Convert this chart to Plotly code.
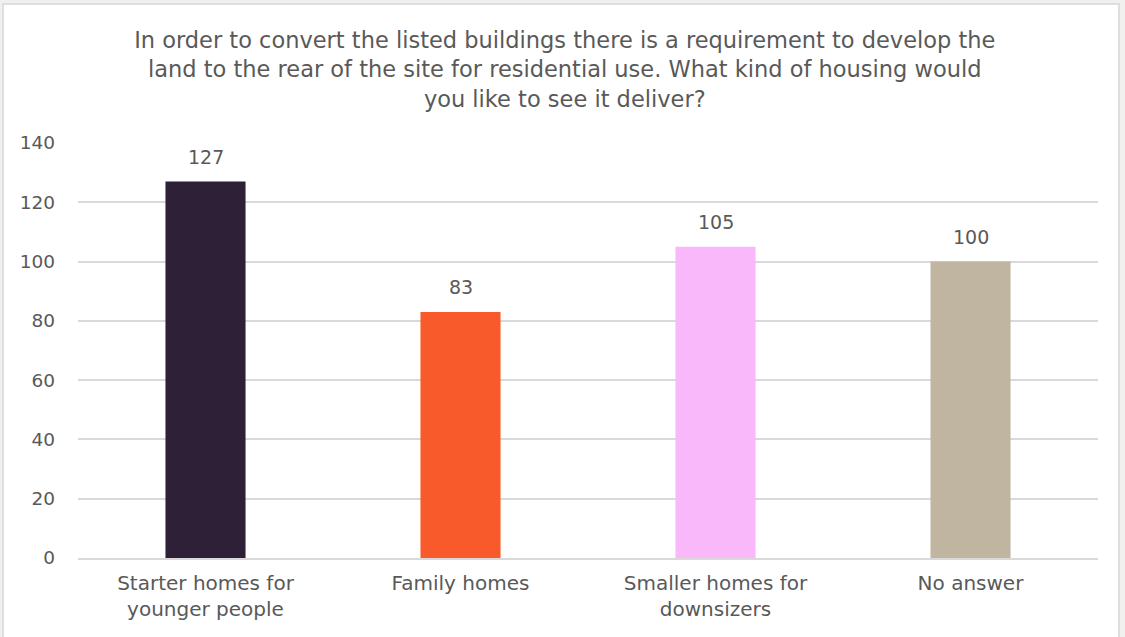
import plotly.graph_objects as go

categories = ["Starter homes for<br>younger people", "Family homes",
              "Smaller homes for<br>downsizers", "No answer"]
responses = [127, 83, 105, 100]
bar_colors = ["#2e2137", "#f95a2c", "#f9b8f9", "#bfb5a0"]
y_ticks = [0, 20, 40, 60, 80, 100, 120, 140]

title_text = ("In order to convert the listed buildings there is a requirement to develop the<br>"
              "land to the rear of the site for residential use. What kind of housing would<br>"
              "you like to see it deliver?")

FONT = "DejaVu Sans"
TEXT = "#595959"

fig = go.Figure(go.Bar(
    x=categories,
    y=responses,
    marker=dict(color=bar_colors, line=dict(width=0)),
    width=0.314,
))

# value labels above each bar
for cat, val in zip(categories, responses):
    fig.add_annotation(x=cat, y=val, text=str(val), showarrow=False,
                       yanchor="bottom", yshift=12,
                       font=dict(family=FONT, size=19, color=TEXT))

fig.update_layout(
    width=1125, height=637,
    margin=dict(l=78, r=27, t=143, b=79),
    paper_bgcolor="#f1f0ee",
    plot_bgcolor="rgba(0,0,0,0)",
    showlegend=False,
    title=dict(text=title_text, x=0.502, xanchor="center", xref="container",
               y=1 - 48 / 637, yanchor="top", yref="container",
               font=dict(family=FONT, size=22.5, color=TEXT)),
    font=dict(family=FONT, color=TEXT),
    yaxis=dict(range=[0, 140], tickvals=y_ticks, showgrid=True, gridcolor="#d9d9d9",
               gridwidth=2, zeroline=False, showline=False, ticks="",
               tickfont=dict(family=FONT, size=18.5, color=TEXT), ticklabelstandoff=22),
    xaxis=dict(showline=True, linecolor="#d9d9d9", linewidth=2, ticks="",
               tickfont=dict(family=FONT, size=20, color=TEXT), ticklabelstandoff=6),
    shapes=[dict(type="rect", xref="paper", yref="paper",
                 x0=(3 - 78) / 1020, x1=(1119 - 78) / 1020,
                 y0=(558 - 640) / 415, y1=(558 - 4) / 415,
                 fillcolor="white", line=dict(color="#d6d6d6", width=1.5),
                 layer="below")],
)

fig.write_html("out.html")
